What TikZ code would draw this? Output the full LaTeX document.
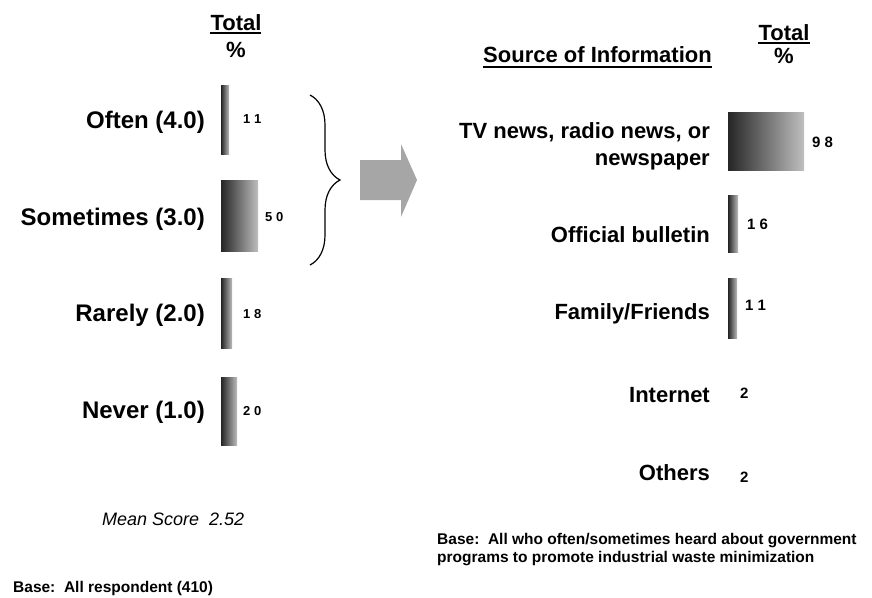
\documentclass[tikz,border=0pt]{standalone}
\usepackage{fontspec}
\setmainfont{Liberation Sans}
\usetikzlibrary{decorations.pathreplacing}

\begin{document}
\begin{tikzpicture}[x=1pt,y=-1pt,
  lbl/.style={font=\fontsize{24}{27}\selectfont\bfseries,anchor=base east,inner sep=0pt},
  src/.style={font=\fontsize{22}{27}\selectfont\bfseries,anchor=base east,inner sep=0pt,align=right},
  val/.style={font=\fontsize{13}{15}\selectfont\bfseries,anchor=base west,inner sep=0pt},
  hdr/.style={font=\fontsize{22}{25}\selectfont\bfseries,anchor=base,inner sep=0pt},
  note/.style={font=\fontsize{15.5}{18}\selectfont\bfseries,inner sep=0pt,align=left},
  bar/.style={left color=black!85,right color=black!25,anchor=north west,inner sep=0pt},
  uline/.style={line width=1.3pt}]
\useasboundingbox (0,0) rectangle (872,597);

\node[hdr] (ltotal) at (236,30) {Total};
\node[hdr] (lpct) at (236,57) {\%};
\draw[uline] (210,33) -- (261,33);

\node[lbl] (often) at (205,128) {Often (4.0)};
\node[lbl] (sometimes) at (205,225) {Sometimes (3.0)};
\node[lbl] (rarely) at (205,321) {Rarely (2.0)};
\node[lbl] (never) at (205,418) {Never (1.0)};

\node[bar,minimum width=8pt,minimum height=69pt] (often bar) at (221,85) {};
\node[bar,minimum width=37pt,minimum height=71pt] (sometimes bar) at (221,180) {};
\node[bar,minimum width=11pt,minimum height=70pt] (rarely bar) at (221,278) {};
\node[bar,minimum width=16pt,minimum height=68pt] (never bar) at (221,377) {};

\node[val] (often val) at (243,123) {1 1};
\node[val] (sometimes val) at (265,221) {5 0};
\node[val] (rarely val) at (243,318) {1 8};
\node[val] (never val) at (243,415) {2 0};

\draw[decorate,decoration={brace,amplitude=30pt},line width=1.2pt] (310,95) -- (310,265);
\fill[black!35] (360,160) -- (401,160) -- (401,144) -- (417,180) -- (401,217) -- (401,200) -- (360,200) -- cycle;

\node[font=\fontsize{18}{20}\selectfont\itshape,anchor=base west,inner sep=0pt] (mean) at (102,525) {Mean Score~~2.52};
\node[note,anchor=base west] (lbase) at (13,592) {Base:~~All respondent (410)};

\node[src] (source) at (712,62) {Source of Information};
\draw[uline] (483,67) -- (712,67);
\node[hdr] (rtotal) at (784,40) {Total};
\node[hdr] (rpct) at (784,63) {\%};
\draw[uline] (758,43) -- (810,43);

\node[src,anchor=east] (tv) at (710,146) {TV news, radio news, or\\newspaper};
\node[src] (bulletin) at (710,242) {Official bulletin};
\node[src] (family) at (710,319) {Family/Friends};
\node[src] (internet) at (710,402) {Internet};
\node[src] (others) at (710,480) {Others};

\node[bar,minimum width=76pt,minimum height=58pt] (tv bar) at (728,112) {};
\node[bar,minimum width=10pt,minimum height=57pt] (bulletin bar) at (728,195) {};
\node[bar,minimum width=9pt,minimum height=60pt] (family bar) at (728,278) {};

\node[val,font=\fontsize{15}{17}\selectfont\bfseries] (tv val) at (812,147) {9 8};
\node[val,font=\fontsize{15}{17}\selectfont\bfseries] (bulletin val) at (747,229) {1 6};
\node[val,font=\fontsize{15}{17}\selectfont\bfseries] (family val) at (745,310) {1 1};
\node[val,font=\fontsize{15}{17}\selectfont\bfseries] (internet val) at (740,398) {2};
\node[val,font=\fontsize{15}{17}\selectfont\bfseries] (others val) at (740,482) {2};

\node[note,anchor=north west] (rbase) at (437,533) {Base:~~All who often/sometimes heard about government\\programs to promote industrial waste minimization};
\end{tikzpicture}
\end{document}
